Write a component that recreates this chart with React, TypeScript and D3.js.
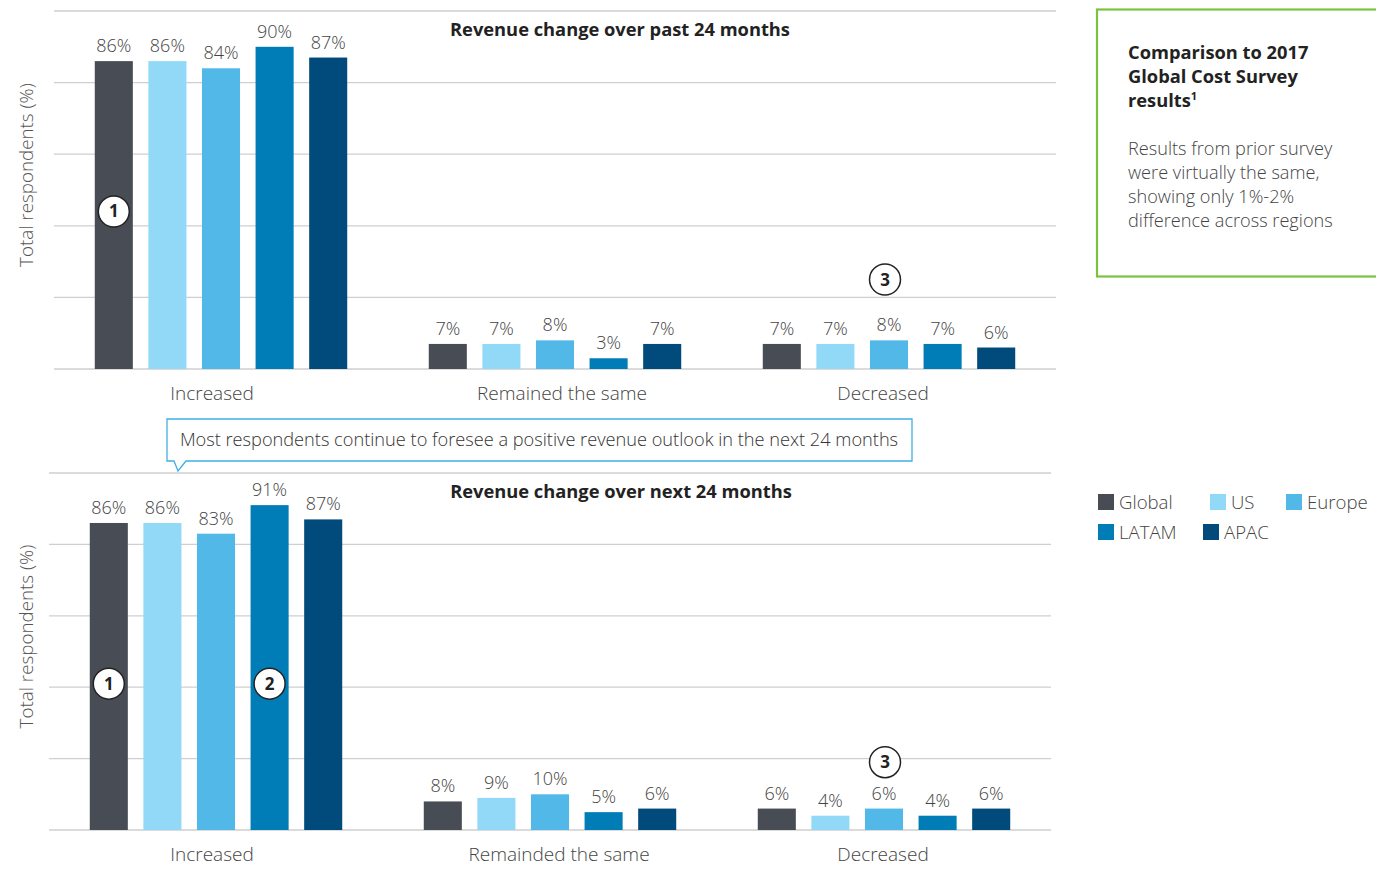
import React from "react";
import * as d3 from "d3";

const categoriesTop = ["Increased", "Remained the same", "Decreased"];
const categoriesBottom = ["Increased", "Remainded the same", "Decreased"];
const series = ["Global", "US", "Europe", "LATAM", "APAC"];
const colors = ["#484c55", "#92d9f7", "#52b8e8", "#007cb6", "#004a7c"];

const pastIncreased = [86, 86, 84, 90, 87];
const pastRemained = [7, 7, 8, 3, 7];
const pastDecreased = [7, 7, 8, 7, 6];

const nextIncreased = [86, 86, 83, 91, 87];
const nextRemained = [8, 9, 10, 5, 6];
const nextDecreased = [6, 4, 6, 4, 6];

const yTicks = [0, 20, 40, 60, 80, 100];

// annotation markers: [categoryIndex, seriesIndex, value position, label, nudge]
const pastMarkers: [number, number, number, string, number][] = [
  [0, 0, 44, "1", 0],
  [2, 2, 25, "3", -4],
];
const nextMarkers: [number, number, number, string, number][] = [
  [0, 0, 41, "1", 0],
  [0, 3, 41, "2", 0],
  [2, 2, 19, "3", 1],
];

const FONT = "'Open Sans', 'Noto Sans', sans-serif";

type PanelProps = {
  x0: number;
  x1: number;
  yTop: number;
  yBase: number;
  title: string;
  titleOffset: number;
  categories: string[];
  data: number[][];
  markers: [number, number, number, string, number][];
  labelOffsets: number[];
};

function Panel({ x0, x1, yTop, yBase, title, titleOffset, categories, data, markers, labelOffsets }: PanelProps) {
  const xOuter = d3.scaleBand<string>().domain(categories).range([x0, x1]).padding(0);
  const xInner = d3
    .scaleBand<string>()
    .domain(series)
    .range([-134, 134])
    .paddingInner(0.29)
    .paddingOuter(0.145);
  const y = d3.scaleLinear().domain([0, 100]).range([yBase, yTop]);
  const center = (c: string) => (xOuter(c) as number) + xOuter.bandwidth() / 2;

  return (
    <g>
      {yTicks.map((t) => (
        <line key={t} x1={x0} x2={x1} y1={y(t)} y2={y(t)} stroke="#cfcfcf" strokeWidth={1.3} />
      ))}
      <text
        transform={`translate(33,${(yTop + yBase) / 2 - 15}) rotate(-90)`}
        textAnchor="middle"
        fontFamily={FONT}
        fontSize={18.8}
        fontWeight={300}
        fill="#555"
      >
        Total respondents (%)
      </text>
      <text
        x={(x0 + x1) / 2 + titleOffset}
        y={yTop + 25}
        textAnchor="middle"
        fontFamily={FONT}
        fontSize={18.3}
        fontWeight={700}
        fill="#222"
      >
        {title}
      </text>
      {categories.map((c, ci) => (
        <g key={c}>
          {series.map((s, si) => {
            const bx = center(c) + (xInner(s) as number);
            const v = data[ci][si];
            return (
              <g key={s}>
                <rect x={bx} y={y(v)} width={xInner.bandwidth()} height={yBase - y(v)} fill={colors[si]} />
                <text
                  x={bx + xInner.bandwidth() / 2}
                  y={y(v) - 9}
                  textAnchor="middle"
                  fontFamily={FONT}
                  fontSize={18}
                  fontWeight={300}
                  fill="#444"
                >
                  {v}%
                </text>
              </g>
            );
          })}
          <text
            x={center(c) + labelOffsets[ci]}
            y={yBase + 31}
            textAnchor="middle"
            fontFamily={FONT}
            fontSize={19}
            fontWeight={300}
            fill="#444"
          >
            {c}
          </text>
        </g>
      ))}
      {markers.map(([ci, si, v, label, nudge], i) => {
        const cx = center(categories[ci]) + (xInner(series[si]) as number) + xInner.bandwidth() / 2 + nudge;
        const cy = y(v);
        return (
          <g key={i}>
            <circle cx={cx} cy={cy} r={15.5} fill="#fff" stroke="#222" strokeWidth={1.5} />
            <text
              x={cx}
              y={cy + 6}
              textAnchor="middle"
              fontFamily={FONT}
              fontSize={17}
              fontWeight={700}
              fill="#222"
            >
              {label}
            </text>
          </g>
        );
      })}
    </g>
  );
}

export default function App() {
  const pastData = [pastIncreased, pastRemained, pastDecreased];
  const nextData = [nextIncreased, nextRemained, nextDecreased];
  const legendItems = [
    { x: 1098, y: 494, i: 0 },
    { x: 1210, y: 494, i: 1 },
    { x: 1286, y: 494, i: 2 },
    { x: 1098, y: 524, i: 3 },
    { x: 1203, y: 524, i: 4 },
  ];
  return (
    <svg
      width={1376}
      height={869}
      style={{ position: "absolute", left: 0, top: 0, background: "#fff" }}
    >
      <Panel
        x0={54}
        x1={1056}
        yTop={11}
        yBase={369}
        title="Revenue change over past 24 months"
        titleOffset={65}
        categories={categoriesTop}
        data={pastData}
        markers={pastMarkers}
        labelOffsets={[-9, 7, -6]}
      />
      <Panel
        x0={49}
        x1={1051}
        yTop={473}
        yBase={830}
        title="Revenue change over next 24 months"
        titleOffset={71}
        categories={categoriesBottom}
        data={nextData}
        markers={nextMarkers}
        labelOffsets={[-4, 9, -1]}
      />
      {/* callout */}
      <path
        d="M167,419 H912 V461 H186 L178,471 L174,461 H167 Z"
        fill="#fff"
        stroke="#3fb0e4"
        strokeWidth={1.3}
      />
      <text
        x={539}
        y={446}
        textAnchor="middle"
        fontFamily={FONT}
        fontSize={18.2}
        fontWeight={300}
        fill="#333"
      >
        Most respondents continue to foresee a positive revenue outlook in the next 24 months
      </text>
      {/* green box */}
      <rect x={1097} y={9.5} width={290} height={267} fill="none" stroke="#7cc242" strokeWidth={2.2} />
      <text fontFamily={FONT} fontSize={18.3} fontWeight={700} fill="#222">
        <tspan x={1128} y={59}>Comparison to 2017</tspan>
        <tspan x={1128} y={83}>Global Cost Survey</tspan>
        <tspan x={1128} y={107}>
          results
          <tspan fontSize={11} dy={-7}>1</tspan>
        </tspan>
      </text>
      <text fontFamily={FONT} fontSize={18.15} fontWeight={300} fill="#444">
        <tspan x={1128} y={155}>Results from prior survey</tspan>
        <tspan x={1128} y={179}>were virtually the same,</tspan>
        <tspan x={1128} y={203}>showing only 1%-2%</tspan>
        <tspan x={1128} y={227}>difference across regions</tspan>
      </text>
      {/* legend */}
      {legendItems.map((l) => (
        <g key={l.i}>
          <rect x={l.x} y={l.y} width={16} height={16} fill={colors[l.i]} />
          <text
            x={l.x + 21}
            y={l.y + 14.5}
            fontFamily={FONT}
            fontSize={18.6}
            fontWeight={300}
            fill="#444"
          >
            {series[l.i]}
          </text>
        </g>
      ))}
    </svg>
  );
}
